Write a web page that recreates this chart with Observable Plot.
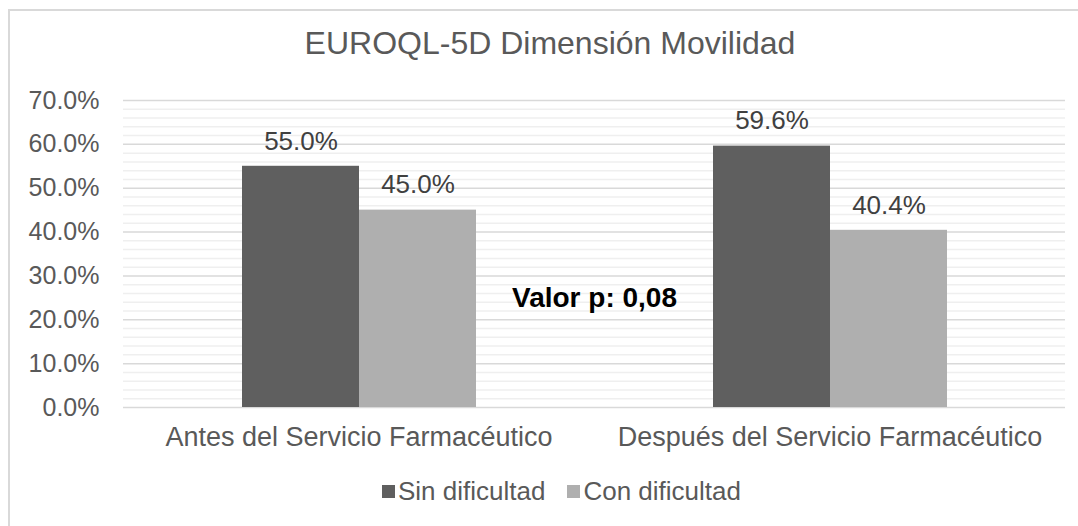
<!DOCTYPE html>
<html>
<head>
<meta charset="utf-8">
<script src="https://cdn.jsdelivr.net/npm/d3@7"></script>
<script src="https://cdn.jsdelivr.net/npm/@observablehq/plot@0.6"></script>
<style>
  html, body { margin: 0; padding: 0; background: #fff; overflow: hidden; }
  #wrap { position: relative; width: 1078px; height: 526px; overflow: hidden; font-family: "Liberation Sans", Arial, sans-serif; }
  #frame { position: absolute; left: 8px; top: 9px; width: 1200px; height: 700px; border-left: 2px solid #d9d9d9; border-top: 2px solid #d9d9d9; box-sizing: border-box; }
  #title { position: absolute; left: 0; top: 27px; width: 1100px; text-align: center; font-size: 32px; color: #595959; line-height: 1; }
  #chart { position: absolute; left: 0; top: 0; }
  #legend { position: absolute; top: 478px; left: 382px; display: flex; align-items: center; font-size: 26px; color: #595959; line-height: 1; }
  .sw { display: inline-block; width: 13px; height: 13px; margin-right: 3px; }
  .item { display: flex; align-items: center; margin-right: 22px; }
</style>
</head>
<body>
<div id="wrap">
  <div id="frame"></div>
  <div id="chart"></div>
  <div id="title">EUROQL-5D Dimensión Movilidad</div>
  <div id="legend"></div>
</div>
<script>
const categories = ["Antes del Servicio Farmacéutico", "Después del Servicio Farmacéutico"];
const series = ["Sin dificultad", "Con dificultad"];
const sinDificultad = [55.0, 59.6];
const conDificultad = [45.0, 40.4];
const seriesColors = ["#5f5f5f", "#afafaf"];
const yTicks = [0, 10, 20, 30, 40, 50, 60, 70];
const minorTicks = [2, 4, 6, 8, 12, 14, 16, 18, 22, 24, 26, 28, 32, 34, 36, 38, 42, 44, 46, 48, 52, 54, 56, 58, 62, 64, 66, 68];
const pNote = [{cat: categories[1], y: 25, text: "Valor p: 0,08"}];

const data = categories.flatMap((c, i) => [
  {cat: c, serie: series[0], value: sinDificultad[i]},
  {cat: c, serie: series[1], value: conDificultad[i]}
]);

const chart = Plot.plot({
  width: 1078,
  height: 470,
  marginLeft: 123,
  marginRight: 13,
  marginTop: 100,
  marginBottom: 63,
  style: {fontFamily: "'Liberation Sans', Arial, sans-serif", background: "transparent"},
  fx: {domain: categories, padding: 0, axis: "bottom", label: null, tickSize: 0, tickPadding: 19},
  x: {domain: series, axis: null, paddingInner: 0, paddingOuter: 1},
  y: {domain: [0, 70], ticks: yTicks, tickFormat: d => d.toFixed(1) + "%", tickSize: 0, tickPadding: 24, label: null},
  color: {domain: series, range: seriesColors},
  marks: [
    Plot.ruleY(minorTicks, {stroke: "#efefef", strokeWidth: 1.5}),
    Plot.ruleY(yTicks, {stroke: "#d9d9d9", strokeWidth: 1.5}),
    Plot.barY(data, {fx: "cat", x: "serie", y: "value", fill: "serie"}),
    Plot.text(data, {fx: "cat", x: "serie", y: "value", text: d => d.value.toFixed(1) + "%", dy: -25, fill: "#404040", fontSize: 26}),
    Plot.text(pNote, {fx: "cat", y: "y", text: "text", frameAnchor: "left", textAnchor: "middle", fontSize: 28, fontWeight: "bold", fill: "#000"})
  ]
});
d3.select(chart).selectAll("g[aria-label='y-axis tick label']").attr("font-size", 25).attr("fill", "#595959");
d3.select(chart).selectAll("g[aria-label='fx-axis tick label']").attr("font-size", 27).attr("fill", "#595959");
document.getElementById("chart").appendChild(chart);

const legend = d3.select("#legend");
series.forEach((s, i) => {
  const item = legend.append("div").attr("class", "item");
  item.append("span").attr("class", "sw").style("background", seriesColors[i]);
  item.append("span").text(s);
});
</script>
</body>
</html>
